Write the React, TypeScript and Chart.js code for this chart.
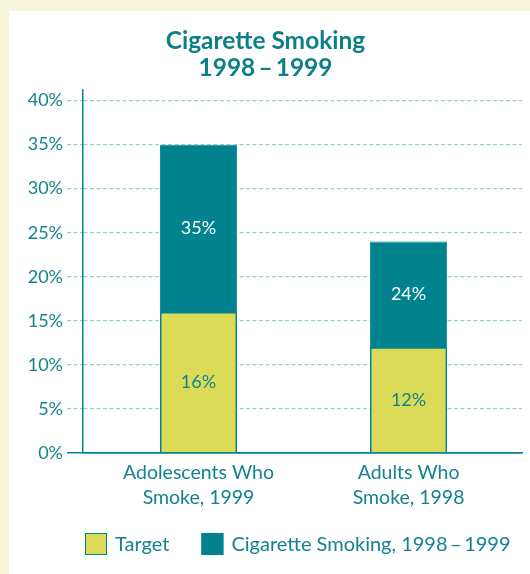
import React, { useEffect, useRef } from "react";
import { Chart, registerables } from "chart.js";

Chart.register(...registerables);

const categories: string[][] = [
  ["Adolescents Who", "Smoke, 1999"],
  ["Adults Who", "Smoke, 1998"],
];
const targetValues: number[] = [16, 12];
const smokingValues: number[] = [35, 24];
const seriesNames: string[] = ["Target", "Cigarette Smoking, 1998\u2009\u2013\u20091999"];
const yTicks: number[] = [0, 5, 10, 15, 20, 25, 30, 35, 40];
const titleLines: string[] = ["Cigarette Smoking", "1998\u2009\u2013\u20091999"];

const TEAL = "#00838f";
const TEXT = "#13838e";
const YELLOW = "#dcdb58";
const GRID = "#9ccfd5";
const FONT = "Lato, 'Open Sans', sans-serif";

const valueLabels = {
  id: "valueLabels",
  afterDatasetsDraw(chart: any) {
    const ctx = chart.ctx;
    const y = chart.scales.y;
    const x = chart.scales.x;
    ctx.save();
    ctx.font = `18px ${FONT}`;
    ctx.textAlign = "center";
    ctx.textBaseline = "middle";
    categories.forEach((_, i) => {
      const cx = x.getPixelForValue(i);
      const t = targetValues[i];
      const s = smokingValues[i];
      ctx.fillStyle = TEXT;
      ctx.fillText(`${t}%`, cx, (y.getPixelForValue(0) + y.getPixelForValue(t)) / 2);
      ctx.fillStyle = "#ffffff";
      ctx.fillText(`${s}%`, cx, (y.getPixelForValue(t) + y.getPixelForValue(s)) / 2);
    });
    ctx.restore();
  },
};

const customLegend = {
  id: "customLegend",
  afterDraw(chart: any) {
    const ctx = chart.ctx;
    const ds = chart.data.datasets;
    ctx.save();
    ctx.font = `20px ${FONT}`;
    ctx.textBaseline = "middle";
    ctx.textAlign = "left";
    let xPos = 76;
    const cy = 533;
    ds.forEach((d: any) => {
      ctx.fillStyle = d.backgroundColor;
      ctx.fillRect(xPos, cy - 11, 22, 22);
      ctx.strokeStyle = TEAL;
      ctx.lineWidth = 1;
      ctx.strokeRect(xPos + 0.5, cy - 10.5, 21, 21);
      ctx.fillStyle = TEXT;
      ctx.fillText(d.label, xPos + 30, cy + 1);
      xPos += 30 + ctx.measureText(d.label).width + 32;
    });
    ctx.restore();
  },
};

export default function App() {
  const ref = useRef<HTMLCanvasElement>(null);
  useEffect(() => {
    document.body.style.margin = "0";
    const barOpts = { categoryPercentage: 0.734, barPercentage: 0.5 };
    const chart = new Chart(ref.current!, {
      type: "bar",
      data: {
        datasets: [
          {
            label: seriesNames[0],
            data: targetValues.map((v, i) => ({ x: i, y: v })),
            backgroundColor: YELLOW,
            borderColor: TEAL,
            borderWidth: 1.5,
            ...barOpts,
          },
          {
            label: seriesNames[1],
            data: smokingValues.map((v, i) => ({ x: i, y: v })),
            backgroundColor: TEAL,
            borderColor: "#168e99",
            borderWidth: 1,
            ...barOpts,
          },
        ],
      },
      options: {
        animation: false,
        responsive: false,
        layout: { padding: { left: 0, right: 8, top: 0, bottom: 51 } },
        plugins: {
          legend: { display: false },
          tooltip: { enabled: false },
          title: {
            display: true,
            text: titleLines,
            color: "#0d7f89",
            font: { family: FONT, size: 24.5, weight: "bold", lineHeight: 1.1 },
            padding: { top: 16.5, bottom: 8.6 },
          },
        },
        scales: {
          x: {
            type: "linear",
            stacked: true,
            offset: false,
            bounds: "data",
            min: -0.55,
            max: 1.54,
            afterBuildTicks: (s: any) => {
              s.ticks = categories.map((_, i) => ({ value: i }));
            },
            grid: { display: false, drawTicks: false, offset: false },
            border: { display: true, color: TEAL, width: 1.5 },
            ticks: {
              color: TEXT,
              font: { family: FONT, size: 19.5, lineHeight: 1.28 },
              padding: 7,
              maxRotation: 0,
              autoSkip: false,
              callback: (v: any) => categories[v] ?? "",
            },
            afterFit: (s: any) => {
              s.height = 70;
            },
          },
          y: {
            stacked: false,
            min: 0,
            max: 41.2,
            afterBuildTicks: (s: any) => {
              s.ticks = yTicks.map((v) => ({ value: v }));
            },
            afterFit: (s: any) => {
              s.width = 74;
            },
            ticks: {
              color: TEXT,
              font: { family: FONT, size: 18 },
              padding: 4,
              callback: (v: any) => `${v}%`,
            },
            grid: {
              color: (c: any) => (c.tick && c.tick.value === 0 ? TEAL : GRID),
              lineWidth: (c: any) => (c.tick && c.tick.value === 0 ? 1.5 : 1.3),
              tickLength: 16,
              tickColor: (c: any) => (c.tick && c.tick.value === 0 ? TEAL : GRID),
              tickWidth: (c: any) => (c.tick && c.tick.value === 0 ? 1.5 : 1.3),
              tickBorderDash: (c: any) => (c.tick && c.tick.value === 0 ? [] : [4, 2.5]),
            },
            border: {
              display: true,
              color: TEAL,
              width: 1.5,
              dash: (c: any) => (c.tick && c.tick.value === 0 ? [] : [4, 2.5]),
            },
          },
        },
      },
      plugins: [valueLabels, customLegend],
    } as any);
    return () => chart.destroy();
  }, []);
  return (
    <div style={{ position: "fixed", inset: 0, background: "#f6f5d9" }}>
      <div
        style={{
          position: "absolute",
          left: 9,
          top: 11,
          width: 521,
          height: 563,
          background: "#ffffff",
        }}
      >
        <canvas ref={ref} width={521} height={563} style={{ display: "block" }} />
      </div>
    </div>
  );
}
